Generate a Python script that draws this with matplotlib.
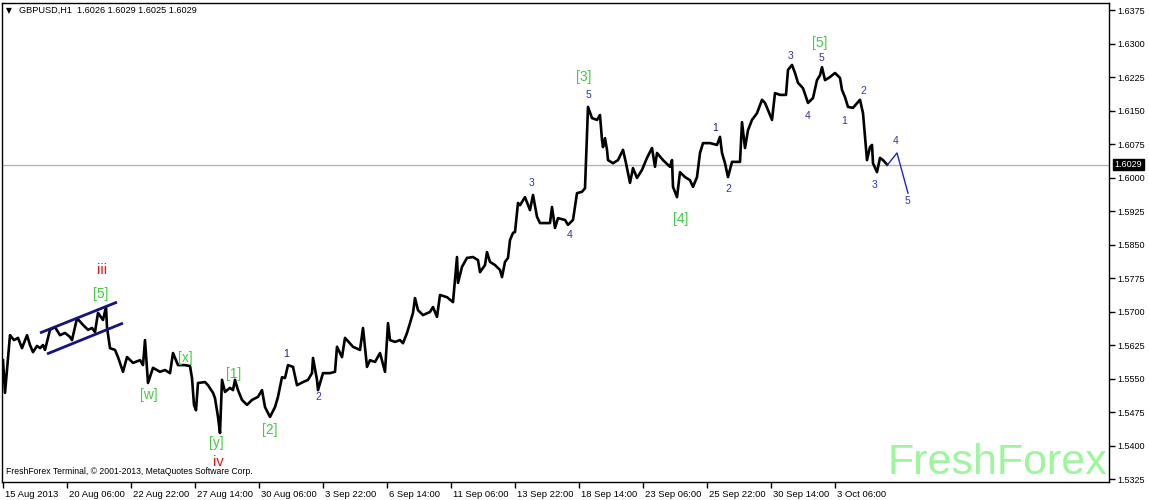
import matplotlib
matplotlib.use("Agg")
import matplotlib.pyplot as plt
import matplotlib.transforms as mtransforms
import numpy as np

plt.rcParams['font.family'] = ['Liberation Sans', 'DejaVu Sans']

# hourly bar offsets (0 = 15 Aug 2013) and GBPUSD price
hours = [0, 2, 4, 7, 11, 15, 19, 24, 27, 30, 34, 37, 40, 42, 47, 52, 57, 62, 67, 69,
         74, 80, 85, 89, 92, 95, 100, 103, 104, 107, 112, 115, 120, 124, 130, 137, 140, 142, 145, 150,
         157, 162, 167, 170, 175, 182, 187, 189, 191, 193, 195, 202, 205, 210, 212, 215, 217, 219, 222, 227,
         230, 232, 235, 239, 244, 249, 255, 259, 262, 267, 272, 275, 279, 282, 285, 290, 294, 300, 305, 309,
         310, 314, 315, 320, 327, 332, 334, 339, 342, 350, 357, 360, 364, 367, 372, 377, 382, 385, 387, 392,
         397, 400, 404, 407, 410, 412, 415, 420, 427, 430, 434, 437, 444, 450, 454, 455, 459, 464, 470, 475,
         477, 482, 484, 487, 492, 497, 499, 502, 505, 507, 510, 512, 515, 517, 522, 527, 530, 534, 537, 542,
         547, 549, 552, 555, 562, 565, 570, 574, 579, 582, 584, 585, 589, 594, 597, 599, 600, 602, 604, 605,
         610, 615, 620, 623, 625, 627, 630, 634, 639, 644, 649, 652, 654, 660, 667, 669, 670, 674, 677, 682,
         687, 690, 694, 697, 700, 707, 714, 717, 719, 722, 725, 729, 734, 737, 739, 742, 745, 749, 754, 759,
         762, 765, 769, 772, 777, 783, 785, 789, 792, 795, 800, 805, 810, 814, 817, 819, 822, 827, 832, 837,
         839, 842, 845, 850, 857, 860, 862, 864, 867, 869, 870, 874, 877, 880, 884]
prices = [1.5591, 1.5518, 1.5569, 1.5647, 1.5636, 1.5641, 1.5618, 1.5647, 1.5625, 1.5609,
          1.5623, 1.5618, 1.5625, 1.5614, 1.5659, 1.5665, 1.5647, 1.5652, 1.5643, 1.5636,
          1.5685, 1.5670, 1.5659, 1.5663, 1.5654, 1.5697, 1.5681, 1.5710, 1.5665, 1.5618,
          1.5614, 1.5598, 1.5565, 1.5598, 1.5585, 1.5591, 1.5580, 1.5636, 1.5540, 1.5574,
          1.5565, 1.5569, 1.5562, 1.5607, 1.5580, 1.5580, 1.5578, 1.5551, 1.5491, 1.5479,
          1.5540, 1.5542, 1.5535, 1.5518, 1.5506, 1.5464, 1.5428, 1.5547, 1.5520, 1.5529,
          1.5524, 1.5547, 1.5524, 1.5502, 1.5491, 1.5502, 1.5509, 1.5524, 1.5486, 1.5464,
          1.5486, 1.5509, 1.5553, 1.5551, 1.5580, 1.5576, 1.5535, 1.5542, 1.5547, 1.5562,
          1.5596, 1.5547, 1.5524, 1.5562, 1.5562, 1.5565, 1.5621, 1.5598, 1.5641, 1.5621,
          1.5614, 1.5663, 1.5576, 1.5591, 1.5587, 1.5607, 1.5565, 1.5674, 1.5636, 1.5632,
          1.5636, 1.5629, 1.5652, 1.5674, 1.5697, 1.5730, 1.5703, 1.5692, 1.5699, 1.5710,
          1.5688, 1.5737, 1.5732, 1.5721, 1.5822, 1.5764, 1.5800, 1.5820, 1.5822, 1.5815,
          1.5788, 1.5804, 1.5833, 1.5811, 1.5804, 1.5793, 1.5777, 1.5811, 1.5820, 1.5860,
          1.5876, 1.5878, 1.5943, 1.5938, 1.5956, 1.5927, 1.5961, 1.5912, 1.5898, 1.5898,
          1.5898, 1.5934, 1.5887, 1.5909, 1.5905, 1.5894, 1.5905, 1.5965, 1.5968, 1.5976,
          1.6100, 1.6158, 1.6133, 1.6129, 1.6140, 1.6084, 1.6068, 1.6088, 1.6062, 1.6039,
          1.6032, 1.6039, 1.6062, 1.6032, 1.6010, 1.5988, 1.6021, 1.5999, 1.6017, 1.6044,
          1.6066, 1.6024, 1.6055, 1.6039, 1.6024, 1.6039, 1.5979, 1.5956, 1.6012, 1.6001,
          1.5994, 1.5979, 1.6001, 1.6055, 1.6077, 1.6077, 1.6073, 1.6091, 1.6055, 1.6032,
          1.6001, 1.6035, 1.6035, 1.6035, 1.6124, 1.6066, 1.6106, 1.6129, 1.6144, 1.6174,
          1.6167, 1.6151, 1.6129, 1.6189, 1.6185, 1.6185, 1.6241, 1.6252, 1.6234, 1.6212,
          1.6200, 1.6167, 1.6178, 1.6218, 1.6229, 1.6247, 1.6218, 1.6225, 1.6234, 1.6223,
          1.6196, 1.6180, 1.6158, 1.6156, 1.6174, 1.6144, 1.6091, 1.6039, 1.6068, 1.6073,
          1.6032, 1.6012, 1.6044, 1.6039, 1.6029]

# forecast path (blue) and the rising channel
forecast_hours = [884, 894, 905]
forecast_prices = [1.6027, 1.6055, 1.5965]
channel_upper = ([37, 114], [1.5652, 1.5721])
channel_lower = ([44, 120], [1.5605, 1.5674])

last_price = 1.6029
tick_hours = [0, 64, 128, 192, 256, 320, 384, 448, 512, 576, 640, 704, 768, 832]
tick_labels = ['15 Aug 2013', '20 Aug 06:00', '22 Aug 22:00', '27 Aug 14:00', '30 Aug 06:00',
               '3 Sep 22:00', '6 Sep 14:00', '11 Sep 06:00', '13 Sep 22:00', '18 Sep 14:00',
               '23 Sep 06:00', '25 Sep 22:00', '30 Sep 14:00', '3 Oct 06:00']
price_ticks = np.arange(1.5325, 1.63751, 0.0075)

# wave labels: (text, hour, price, colour, size)
green = '#3ccc3c'
red = '#ee1111'
blue = '#2a36c8'
indigo = '#4a2a90'
navy = '#1c1c78'
wave_labels = [
    ('iii', 99, 1.5793, red, 10.5), ('[5]', 98, 1.5739, green, 10),
    ('[x]', 182, 1.5596, green, 10), ('[w]', 146, 1.5513, green, 10),
    ('[1]', 231, 1.5560, green, 10), ('[y]', 213, 1.5406, green, 10),
    ('iv', 215, 1.5363, red, 10.5), ('[2]', 267, 1.5435, green, 10),
    ('1', 283, 1.5605, navy, 7.5), ('2', 315, 1.5509, blue, 7.5),
    ('3', 529, 1.5988, blue, 7.5), ('4', 567, 1.5871, indigo, 7.5),
    ('[3]', 581, 1.6225, green, 10), ('5', 585, 1.6185, blue, 7.5),
    ('[4]', 678, 1.5907, green, 10), ('1', 712, 1.6111, navy, 7.5),
    ('2', 725, 1.5974, blue, 7.5), ('3', 788, 1.6272, indigo, 7.5),
    ('[5]', 817, 1.6301, green, 10), ('5', 818, 1.6268, indigo, 7.5),
    ('4', 805, 1.6138, indigo, 7.5), ('1', 841, 1.6126, indigo, 7.5),
    ('2', 860, 1.6194, blue, 7.5), ('3', 872, 1.5983, blue, 7.5),
    ('4', 893, 1.6082, indigo, 7.5), ('5', 904, 1.5947, blue, 7.5),
]

fig = plt.figure(figsize=(11.49, 5), dpi=100)
ax = fig.add_axes([2 / 1149, 18 / 500, 1107 / 1149, 479 / 500])
ax.set_xlim(-1, 1106)
ax.set_ylim(1.53183, 1.63907)

ax.axhline(last_price, color='#b4b4b4', lw=1, zorder=1)
ax.plot(hours, prices, color='black', lw=1.9, zorder=3)
ax.plot(forecast_hours, forecast_prices, color='#1e1ee6', lw=1, zorder=3)
for xs, ys in (channel_upper, channel_lower):
    ax.plot(xs, ys, color='#14147a', lw=2, solid_capstyle='butt', zorder=4)

for txt, hx, py, col, fs in wave_labels:
    ax.text(hx, py, txt, color=col, fontsize=fs, ha='center', va='center', zorder=5)

# axes styling like the terminal
for sp in ax.spines.values():
    sp.set_color('black')
    sp.set_linewidth(1)
ax.yaxis.tick_right()
ax.set_yticks(price_ticks)
ax.set_yticklabels(['%.4f' % p for p in price_ticks])
ax.tick_params(axis='y', direction='out', length=4, width=1, pad=2, labelsize=6.5)
ax.set_xticks(tick_hours)
ax.set_xticklabels(tick_labels)
ax.tick_params(axis='x', direction='out', length=4, width=1, pad=2, labelsize=6.8)
shift = mtransforms.ScaledTranslation(2 / 100, 0, fig.dpi_scale_trans)
for lab in ax.get_xticklabels():
    lab.set_ha('left')
    lab.set_transform(lab.get_transform() + shift)

# current price box on the price scale
ax.annotate('%.4f' % last_price, xy=(1, last_price), xycoords=('axes fraction', 'data'),
            xytext=(4, 0), textcoords='offset points', ha='left', va='center',
            fontsize=6.5, color='white',
            bbox=dict(boxstyle='square,pad=0.15', fc='black', ec='black'))

ax.text(0.004, 0.994, '\u25bc', transform=ax.transAxes, fontsize=5.5, va='top', ha='left',
        family='DejaVu Sans')
ax.text(0.015, 0.994, 'GBPUSD,H1  1.6026 1.6029 1.6025 1.6029', transform=ax.transAxes,
        fontsize=6.6, va='top', ha='left')
ax.text(0.004, 0.012, 'FreshForex Terminal, \u00a9 2001-2013, MetaQuotes Software Corp.',
        transform=ax.transAxes, fontsize=6.2, va='bottom', ha='left')
ax.text(0.998, -0.002, 'FreshForex', transform=ax.transAxes, fontsize=31, color='#9cf79c',
        va='bottom', ha='right', zorder=0)

fig.savefig('out.png', dpi=100)
